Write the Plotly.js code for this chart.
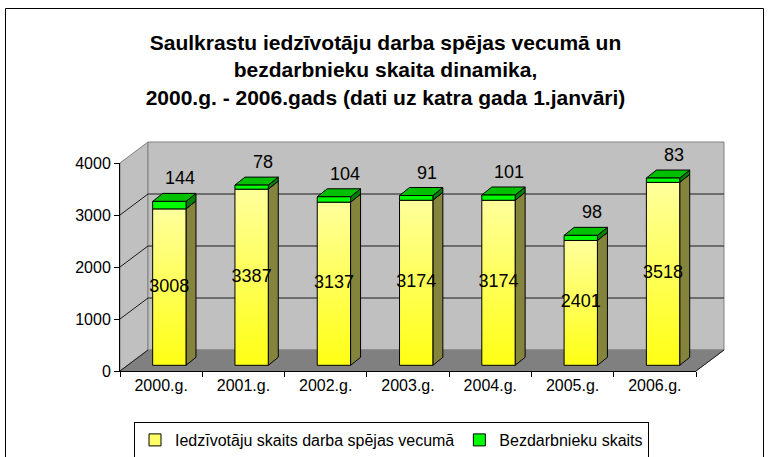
<!DOCTYPE html>
<html>
<head>
<meta charset="utf-8">
<script src="https://cdn.plot.ly/plotly-3.0.1.min.js"></script>
<style>body{margin:0;padding:0;background:#fff;}#chart{width:769px;height:457px;}</style>
</head>
<body>
<svg width="0" height="0" style="position:absolute">
  <defs>
    <linearGradient id="yellowGrad" x1="0" y1="0" x2="0" y2="1">
      <stop offset="0" stop-color="#ffff9c"/>
      <stop offset="1" stop-color="#ffff14"/>
    </linearGradient>
  </defs>
</svg>
<div id="chart"></div>
<script>
// ---- data ----
const categories = ["2000.g.", "2001.g.", "2002.g.", "2003.g.", "2004.g.", "2005.g.", "2006.g."];
const workingAge = [3008, 3387, 3137, 3174, 3174, 2401, 3518];
const unemployed = [144, 78, 104, 91, 101, 98, 83];
const yTicks = [0, 1000, 2000, 3000, 4000];
const seriesNames = ["Iedzīvotāju skaits darba spējas vecumā", "Bezdarbnieku skaits"];
const titleText = "Saulkrastu iedzīvotāju darba spējas vecumā un<br>bezdarbnieku skaita dinamika,<br>2000.g. - 2006.gads (dati uz katra gada 1.janvāri)";

// ---- geometry (styles / layout, not data) ----
const W = 769, H = 457;
const M = {l: 120, r: 73, t: 163, b: 86};
const PW = W - M.l - M.r, PH = H - M.t - M.b;
const YMAX = 4000;
const N = categories.length;
const catPx = PW / N, unitPx = PH / YMAX;
const BAR_W = 0.405, BAR_OFF = -0.103;
const BASE = 5.7 / unitPx;         // bars stand slightly back from the front edge
const BD = {x: 10, y: 8};          // bar depth in px
const WD = {x: 28, y: 21};         // wall depth in px

const xpx = i => M.l + (i + 0.5) * catPx;
const ypx = v => M.t + PH - v * unitPx;
const px2paperX = p => (p - M.l) / PW;
const px2paperY = p => (M.t + PH - p) / PH;
const poly = pts => 'M ' + pts.map(p => px2paperX(p[0]).toFixed(5) + ',' + px2paperY(p[1]).toFixed(5)).join(' L ') + ' Z';
const seg = (a, b, color, width) => ({type: 'line', xref: 'paper', yref: 'paper', layer: 'below',
  x0: px2paperX(a[0]), y0: px2paperY(a[1]), x1: px2paperX(b[0]), y1: px2paperY(b[1]),
  line: {color: color, width: width || 1}});
const fillPath = (pts, fill, lineColor) => ({type: 'path', xref: 'paper', yref: 'paper', layer: 'below',
  path: poly(pts), fillcolor: fill, line: {color: lineColor, width: 1}});

const shapes = [];
const x0 = M.l, x1 = M.l + PW, y0 = ypx(0), yTop = ypx(YMAX);
// left wall
shapes.push(fillPath([[x0, yTop], [x0 + WD.x, yTop - WD.y], [x0 + WD.x, y0 - WD.y], [x0, y0]], '#c0c0c0', '#808080'));
// back wall
shapes.push(fillPath([[x0 + WD.x, yTop - WD.y], [x1 + WD.x, yTop - WD.y], [x1 + WD.x, y0 - WD.y], [x0 + WD.x, y0 - WD.y]], '#c0c0c0', '#808080'));
// floor
shapes.push(fillPath([[x0, y0], [x0 + WD.x, y0 - WD.y], [x1 + WD.x, y0 - WD.y], [x1, y0]], '#808080', '#808080'));
// gridlines on walls
yTicks.forEach(v => {
  if (v > 0 && v < YMAX) {
    shapes.push(seg([x0 + WD.x, ypx(v) - WD.y], [x1 + WD.x, ypx(v) - WD.y], '#1a1a1a', 1));
  }
  if (v < YMAX) shapes.push(seg([x0, ypx(v)], [x0 + WD.x, ypx(v) - WD.y], '#1a1a1a', 1));
});
// right floor edge
shapes.push(seg([x1, y0], [x1 + WD.x, y0 - WD.y], '#1a1a1a', 1));

// bar side and top faces (derived from the data arrays)
categories.forEach((c, i) => {
  const left = xpx(i) + BAR_OFF * catPx;
  const right = left + BAR_W * catPx;
  const yb = ypx(BASE), yy = ypx(BASE + workingAge[i]), yg = ypx(BASE + workingAge[i] + unemployed[i]);
  shapes.push(fillPath([[right, yb], [right, yy], [right + BD.x, yy - BD.y], [right + BD.x, yb - BD.y]], '#84843c', '#000000'));
  shapes.push(fillPath([[right, yy], [right, yg], [right + BD.x, yg - BD.y], [right + BD.x, yy - BD.y]], '#008000', '#000000'));
  shapes.push(fillPath([[left, yg], [left + BD.x, yg - BD.y], [right + BD.x, yg - BD.y], [right, yg]], '#00c000', '#000000'));
});
// outer chart frame
shapes.push({type: 'rect', xref: 'paper', yref: 'paper', layer: 'above',
  x0: px2paperX(5.5), x1: px2paperX(763.5), y0: px2paperY(475), y1: px2paperY(8.5),
  line: {color: '#000000', width: 1}, fillcolor: 'rgba(0,0,0,0)'});

const FONT = 'Liberation Sans, Arial, sans-serif';
const idx = categories.map((c, i) => i);
const barCenter = idx.map(i => i + BAR_OFF + BAR_W / 2);

// labels of the unemployed series sit above the 3D bar top (may extend above the plot area)
const annotations = unemployed.map((u, i) => ({
  xref: 'x2', yref: 'paper',
  x: barCenter[i] + 11 / catPx,
  y: (BASE + workingAge[i] + u + 23 / unitPx) / YMAX,
  text: String(u), showarrow: false, xanchor: 'center', yanchor: 'middle',
  font: {family: FONT, size: 18, color: '#000000'}
}));

const traces = [
  {type: 'bar', name: seriesNames[0], x: categories, y: workingAge, base: BASE,
   width: BAR_W, offset: BAR_OFF, marker: {color: '#ffff66', line: {color: '#000000', width: 1}},
   hoverinfo: 'skip'},
  {type: 'bar', name: seriesNames[1], x: categories, y: unemployed, base: workingAge.map(v => v + BASE),
   width: BAR_W, offset: BAR_OFF, marker: {color: '#00ff00', line: {color: '#000000', width: 1}},
   hoverinfo: 'skip'},
  {type: 'scatter', mode: 'text', xaxis: 'x2', yaxis: 'y', x: barCenter,
   y: workingAge.map(v => BASE + v / 2), text: workingAge.map(String), textposition: 'middle center',
   textfont: {family: FONT, size: 18, color: '#000000'}, showlegend: false, hoverinfo: 'skip', cliponaxis: false}
];

const layout = {
  width: W, height: H,
  margin: M,
  paper_bgcolor: '#ffffff', plot_bgcolor: 'rgba(0,0,0,0)',
  font: {family: FONT, size: 16, color: '#000000'},
  title: {text: titleText, font: {family: FONT, size: 21, color: '#000000', weight: 'bold'},
          x: 385.5 / W, xanchor: 'center', xref: 'container', y: 1 - 50 / H, yanchor: 'top', yref: 'container'},
  barmode: 'overlay',
  showlegend: true,
  legend: {orientation: 'h', xref: 'container', yref: 'container', x: 391.5 / W, xanchor: 'center',
           y: 1 - 422 / H, yanchor: 'top',
           bordercolor: '#000000', borderwidth: 1, bgcolor: '#ffffff',
           font: {family: FONT, size: 16, color: '#000000'}, traceorder: 'normal'},
  xaxis: {type: 'category', categoryorder: 'array', categoryarray: categories, range: [-0.5, N - 0.5],
          tickson: 'boundaries', ticks: 'outside', ticklen: 5, tickcolor: '#000000',
          showline: true, linecolor: '#000000', linewidth: 1, showgrid: false, zeroline: false,
          tickfont: {family: FONT, size: 16, color: '#000000'}, fixedrange: true},
  xaxis2: {overlaying: 'x', anchor: 'y', range: [-0.5, N - 0.5], visible: false, fixedrange: true},
  yaxis: {range: [0, YMAX], tickvals: yTicks, ticktext: yTicks.map(String), ticks: 'outside', ticklen: 5,
          tickcolor: '#000000', showline: true, linecolor: '#000000', linewidth: 1,
          showgrid: false, zeroline: false, tickfont: {family: FONT, size: 16, color: '#000000'}, fixedrange: true},
  shapes: shapes,
  annotations: annotations
};

Plotly.newPlot('chart', traces, layout, {displayModeBar: false, staticPlot: true}).then(gd => {
  const bars = gd.querySelectorAll('.barlayer .trace.bars');
  if (bars.length) {
    bars[0].querySelectorAll('path').forEach(p => { p.style.fill = 'url(#yellowGrad)'; });
  }
});
</script>
</body>
</html>
